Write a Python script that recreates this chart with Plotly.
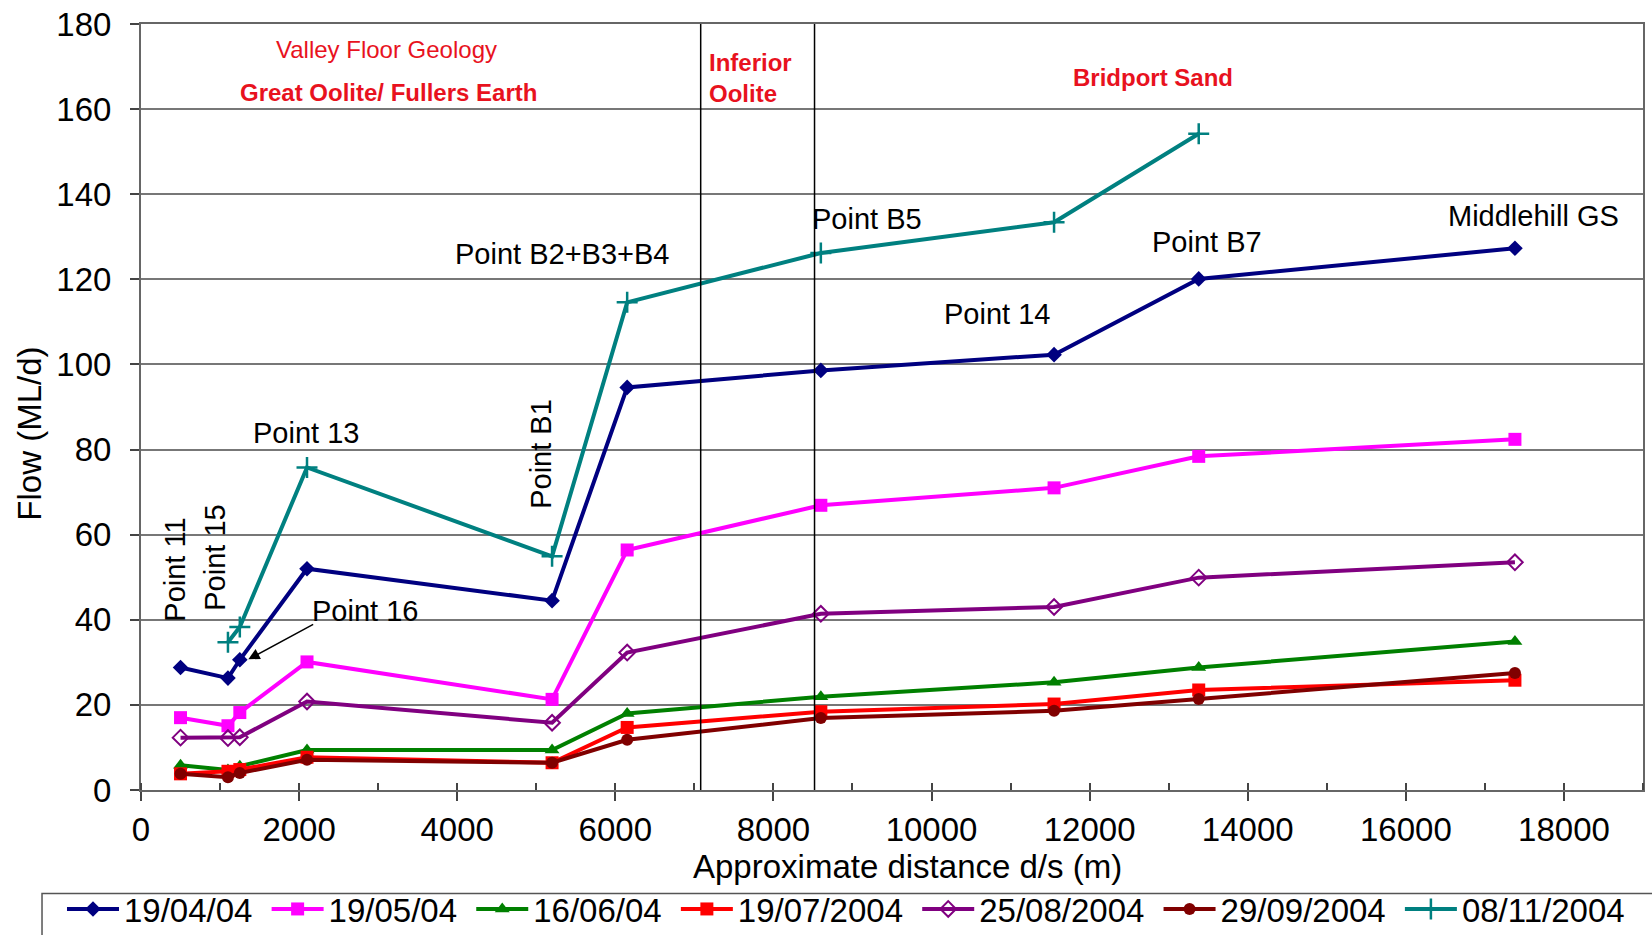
import plotly.graph_objects as go

# ---- data ----
distance = [500, 1100, 1250, 2100, 5200, 6150, 8600, 11550, 13380, 17380]
distance_nov = [1100, 1250, 2100, 5200, 6150, 8600, 11550, 13380]

flow_190404 = [28.8, 26.3, 30.6, 52.0, 44.5, 94.6, 98.6, 102.3, 120.1, 127.3]
flow_190504 = [17.0, 15.1, 18.2, 30.1, 21.3, 56.4, 66.9, 71.0, 78.4, 82.4]
flow_160604 = [5.8, 4.7, 5.6, 9.4, 9.4, 18.0, 21.9, 25.3, 28.8, 34.9]
flow_190704 = [3.8, 4.4, 4.8, 7.7, 6.4, 14.7, 18.4, 20.2, 23.5, 25.8]
flow_250804 = [12.3, 12.2, 12.4, 20.8, 15.8, 32.3, 41.4, 43.0, 49.9, 53.5]
flow_290904 = [3.8, 3.0, 4.0, 7.1, 6.4, 11.8, 16.9, 18.6, 21.4, 27.5]
flow_081104 = [34.7, 38.3, 75.8, 54.9, 114.6, 126.2, 133.4, 154.2]

series_names = ["19/04/04", "19/05/04", "16/06/04", "19/07/2004", "25/08/2004", "29/09/2004", "08/11/2004"]

boundaries = [7080, 8520]

x_ticks = [0, 2000, 4000, 6000, 8000, 10000, 12000, 14000, 16000, 18000]
x_tick_text = ["0", "2000", "4000", "6000", "8000", "10000", "12000", "14000", "16000", "18000"]
y_ticks = [0, 20, 40, 60, 80, 100, 120, 140, 160, 180]

FONT = "Liberation Sans, Arial, sans-serif"

styles = [
    (distance, flow_190404, "#000080", dict(symbol="diamond", size=12)),
    (distance, flow_190504, "#FF00FF", dict(symbol="square", size=13)),
    (distance, flow_160604, "#008000", dict(symbol="triangle-up", size=13)),
    (distance, flow_190704, "#FF0000", dict(symbol="square", size=13)),
    (distance, flow_250804, "#800080", dict(symbol="diamond-open", size=12, line=dict(width=2))),
    (distance, flow_290904, "#800000", dict(symbol="circle", size=12)),
    (distance_nov, flow_081104, "#008080", dict(symbol="cross-thin-open", size=15, line=dict(width=2.5, color="#008080"))),
]

fig = go.Figure()
for name, (xs, ys, col, mk) in zip(series_names, styles):
    mk = dict(mk)
    mk["color"] = col
    fig.add_trace(go.Scatter(x=xs, y=ys, name=name + "\u00a0", mode="lines+markers",
                             line=dict(color=col, width=4), marker=mk))

# boundary lines
for b in boundaries:
    fig.add_shape(type="line", x0=b, x1=b, y0=0, y1=180, xref="x", yref="y",
                  line=dict(color="black", width=1.5), layer="above")

# legend frame (drawn separately so the entries can sit closer to its top edge)
fig.add_shape(type="rect", xref="paper", yref="paper", x0=-0.0659, x1=1.02, y0=-0.1351, y1=-0.2,
              line=dict(color="#555", width=1.5), fillcolor="rgba(0,0,0,0)", layer="above")

def ann(text, x, y, size=29, color="black", bold=False, angle=0, xanchor="center"):
    t = f"<b>{text}</b>" if bold else text
    fig.add_annotation(text=t, x=x, y=y, xref="x", yref="y", showarrow=False,
                       font=dict(family=FONT, size=size, color=color),
                       textangle=angle, xanchor=xanchor, yanchor="middle")

RED = "#E8121E"
ann("Valley Floor Geology", 3100, 174, size=24, color=RED)
ann("Great Oolite/ Fullers Earth", 3130, 164, size=24, color=RED, bold=True)
fig.add_annotation(text="<b>Inferior<br>Oolite</b>", x=7160, y=167.4, xref="x", yref="y",
                   showarrow=False, align="left", xanchor="left", yanchor="middle",
                   font=dict(family=FONT, size=24, color=RED))
ann("Bridport Sand", 12800, 167.4, size=24, color=RED, bold=True)

ann("Point B2+B3+B4", 5326, 126)
ann("Point B5", 9190, 134.2)
ann("Middlehill GS", 17616, 134.9)
ann("Point B7", 13488, 128.7)
ann("Point 14", 10826, 111.9)
ann("Point 13", 2090, 83.9)
ann("Point B1", 5060, 79, angle=-90)
ann("Point 11", 426, 51.7, angle=-90)
ann("Point 15", 932, 54.5, angle=-90)
ann("Point 16", 2836, 42.1)
fig.add_annotation(text="", x=1358, y=30.7, ax=2197, ay=39.1, xref="x", yref="y",
                   axref="x", ayref="y", showarrow=True, arrowhead=2, arrowsize=1.5,
                   arrowwidth=1.5, arrowcolor="black")

# axis titles as annotations
fig.add_annotation(text="Flow (ML/d)", x=-0.074, y=0.465, xref="paper", yref="paper",
                   xanchor="center", yanchor="middle",
                   textangle=-90, showarrow=False, font=dict(family=FONT, size=33, color="black"))
fig.add_annotation(text="Approximate distance d/s (m)", x=0.51, y=-0.1, xref="paper", yref="paper",
                   xanchor="center", showarrow=False, yanchor="middle",
                   font=dict(family=FONT, size=33, color="black"))

fig.update_xaxes(range=[0, 19000], tickvals=x_ticks, ticktext=x_tick_text, ticks="outside", ticklen=9,
                 tickwidth=1.5, tickcolor="#444", showgrid=False, zeroline=False, showline=True,
                 linecolor="#666", linewidth=2, mirror=True, automargin=False,
                 ticklabeloverflow="allow",
                 minor=dict(ticks="inside", dtick=1000, ticklen=7, tickcolor="#444", showgrid=False),
                 tickfont=dict(family=FONT, size=33, color="black"))
fig.update_yaxes(range=[0, 180], tickvals=y_ticks, ticks="outside", ticklen=9, tickwidth=1.5,
                 tickcolor="#444", showgrid=True, gridcolor="#777", gridwidth=2, zeroline=False,
                 showline=True, linecolor="#666", linewidth=2, mirror=True, automargin=False,
                 ticklabeloverflow="allow", ticklabelstandoff=12,
                 tickfont=dict(family=FONT, size=33, color="black"))

fig.update_layout(
    width=1652, height=935,
    margin=dict(l=141, r=9, t=24, b=145, autoexpand=False),
    plot_bgcolor="white", paper_bgcolor="white",
    font=dict(family=FONT, color="black"),
    showlegend=True,
    legend=dict(orientation="h", x=-0.0526, y=-0.1188, xanchor="left", yanchor="top",
                borderwidth=0, bgcolor="rgba(0,0,0,0)",
                font=dict(family=FONT, size=33, color="black"),
                itemwidth=52, tracegroupgap=0),
)

# remove the default 8px page margin so the figure fills the window exactly
fig.write_html("out.html", config={"displayModeBar": False},
               post_script="document.body.style.margin='0';document.body.style.overflow='hidden';")
